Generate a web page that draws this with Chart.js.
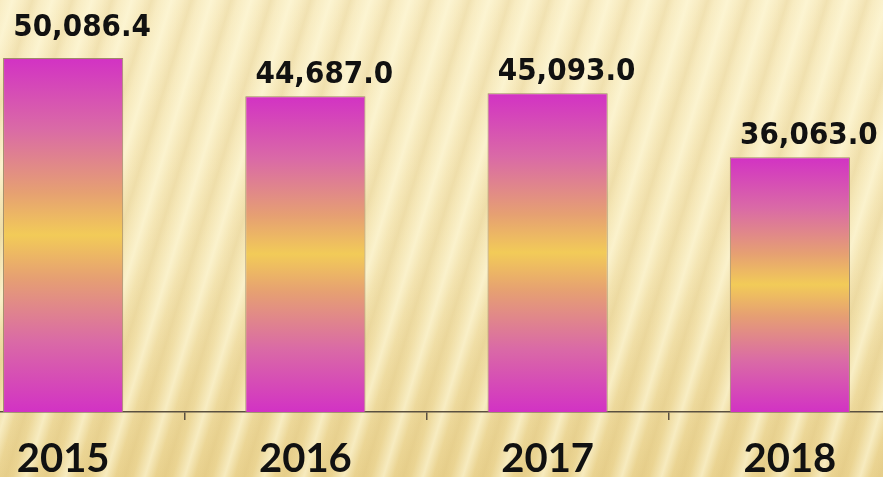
<!DOCTYPE html>
<html>
<head>
<meta charset="utf-8">
<script src="https://cdn.jsdelivr.net/npm/chart.js@4.4.0/dist/chart.umd.min.js"></script>
<style>
	html, body { margin: 0; padding: 0; width: 883px; height: 477px; overflow: hidden; }
	body {
		background-color: #f3e4b0;
		background-image:
			repeating-linear-gradient(107deg,
				rgba(255,250,220,0.0) 0px, rgba(255,250,220,0.6) 12px,
				rgba(255,250,220,0.0) 22px, rgba(210,180,105,0.18) 31px,
				rgba(255,250,220,0.0) 38px),
			linear-gradient(180deg, #f8ecc2 0%, #f4e5b3 55%, #ead390 100%);
		position: relative;
	}
	#wrap { position: absolute; left: -58px; top: 0; width: 969px; height: 520px; }
</style>
</head>
<body>
<div id="wrap"><canvas id="mycanvas"></canvas></div>
<script>
var years = ['2015', '2016', '2017', '2018'];
var values = [50086.4, 44687.0, 45093.0, 36063.0];
var valueLabels = ['50,086.4', '44,687.0', '45,093.0', '36,063.0'];

function barFill(context) {
	var chart = context.chart;
	if (!chart.chartArea || context.dataIndex === undefined) return '#d535c2';
	var y = chart.scales.y;
	var top = y.getPixelForValue(values[context.dataIndex]);
	var bottom = y.getPixelForValue(0);
	var g = chart.ctx.createLinearGradient(0, top, 0, bottom);
	g.addColorStop(0, '#d232c4');
	g.addColorStop(0.2, '#da6aa6');
	g.addColorStop(0.38, '#e6a072');
	g.addColorStop(0.5, '#f2cb58');
	g.addColorStop(0.62, '#e6a072');
	g.addColorStop(0.8, '#da6aa6');
	g.addColorStop(1, '#d232c4');
	return g;
}

var valueLabelPlugin = {
	id: 'valueLabels',
	afterDatasetsDraw: function(chart) {
		var ctx = chart.ctx;
		var meta = chart.getDatasetMeta(0);
		ctx.save();
		ctx.font = 'bold 31px "DejaVu Sans Condensed", "DejaVu Sans"';
		ctx.fillStyle = '#111';
		ctx.textAlign = 'center';
		ctx.textBaseline = 'alphabetic';
		meta.data.forEach(function(bar, i) {
			// first label sits a bit higher in the original
			var lift = i === 0 ? 22 : 13;
			var txt = valueLabels[i];
			var w = ctx.measureText(txt).width;
			var sx = Math.min(1, 139 / w);
			ctx.save();
			ctx.translate(bar.x + 19, bar.y - lift);
			ctx.scale(sx, 1);
			ctx.fillText(txt, 0, 0);
			ctx.restore();
		});
		ctx.restore();
	}
};

var ctx = document.getElementById('mycanvas');

var barGraph = new Chart(ctx, {
	type: 'bar',
	data: {
		labels: years,
		datasets: [{
			label: 'value',
			data: values,
			backgroundColor: barFill,
			borderColor: '#a08a68',
			borderWidth: 1,
			categoryPercentage: 1,
			barPercentage: 0.496
		}]
	},
	options: {
		responsive: true,
		maintainAspectRatio: false,
		animation: false,
		layout: { padding: 0 },
		plugins: { legend: { display: false }, tooltip: { enabled: false } },
		scales: {
			x: {
				border: { display: true, color: '#5a5040', width: 1.5 },
				grid: { drawOnChartArea: false, drawTicks: true, tickLength: 8, color: '#5a5040', lineWidth: 1.5 },
				ticks: { color: '#111', padding: 15, font: { family: 'Lato', weight: 'bold', size: 40 } },
				afterFit: function(s) { s.height = 108; }
			},
			y: {
				display: false,
				min: 0,
				max: 58300
			}
		}
	},
	plugins: [valueLabelPlugin]
});
</script>
</body>
</html>
